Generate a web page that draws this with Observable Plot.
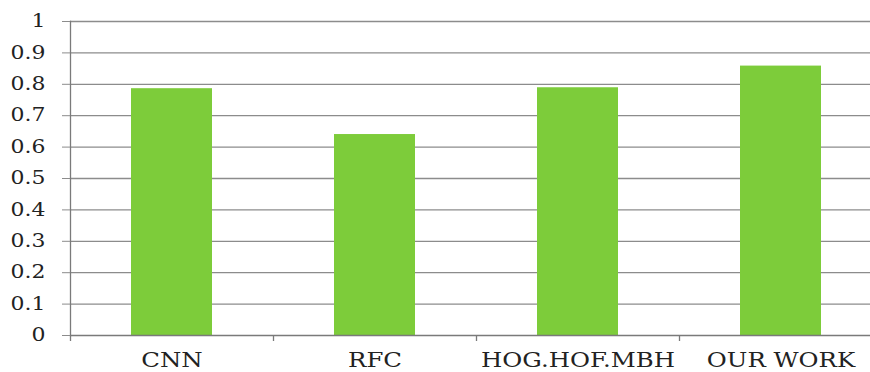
<!DOCTYPE html>
<html>
<head>
<meta charset="utf-8">
<script src="https://cdn.jsdelivr.net/npm/d3@7"></script>
<script src="https://cdn.jsdelivr.net/npm/@observablehq/plot@0.6"></script>
<style>
  html, body { margin: 0; padding: 0; background: #fff; }
  #chart svg { display: block; }
</style>
</head>
<body>
<div id="chart"></div>
<script>
const categories = ["CNN", "RFC", "HOG.HOF.MBH", "OUR WORK"];
const values = [0.786, 0.640, 0.789, 0.858];
const yTicks = [0, 0.1, 0.2, 0.3, 0.4, 0.5, 0.6, 0.7, 0.8, 0.9, 1];
const yTickLabels = ["0", "0.1", "0.2", "0.3", "0.4", "0.5", "0.6", "0.7", "0.8", "0.9", "1"];

const data = categories.map((c, i) => ({category: c, value: values[i]}));

const W = 870, H = 372;
const xRange = [70, 882];
const step = (xRange[1] - xRange[0]) / categories.length;
const gridColor = "#8c8c8c";
const axisColor = "#7a7a7a";
const font = "'DejaVu Serif', 'Liberation Serif', serif";

const chart = Plot.plot({
  width: W,
  height: H,
  marginTop: 21,
  marginBottom: 37,
  marginLeft: 70,
  marginRight: 0,
  style: {fontFamily: font, color: "#222", background: "#fff"},
  x: {domain: categories, range: xRange, paddingInner: 0.6, paddingOuter: 0.3, align: 0.5, label: null},
  y: {domain: [0, 1], label: null},
  marks: [
    Plot.ruleY(yTicks.slice(1), {stroke: gridColor, strokeWidth: 1.3, strokeOpacity: 1}),
    Plot.barY(data, {x: "category", y: "value", fill: "#7dcc3a"}),
    Plot.ruleY([0], {stroke: axisColor, strokeWidth: 1.3}),
    Plot.frame({anchor: "left", stroke: axisColor, strokeWidth: 1.3}),
    Plot.ruleX(categories, {x: d => d, dx: -step / 2, y1: 0, y2: 0, insetBottom: -6, stroke: axisColor, strokeWidth: 1.3}),
    Plot.axisY({
      ticks: yTicks,
      tickFormat: (d) => yTickLabels[yTicks.indexOf(d)],
      tickSize: 8,
      tickPadding: 17,
      stroke: gridColor,
      strokeOpacity: 1,
      fontSize: 18,
      label: null
    }),
    Plot.axisX({
      tickSize: 0,
      tickPadding: 17,
      fontSize: 20,
      label: null
    })
  ]
});

document.getElementById("chart").appendChild(chart);

// Widen glyphs horizontally to match the reference's stretched serif text
chart.querySelectorAll("text").forEach(t => {
  const len = t.getComputedTextLength();
  if (len > 0) {
    t.setAttribute("textLength", (len * 1.22).toFixed(1));
    t.setAttribute("lengthAdjust", "spacingAndGlyphs");
  }
});
</script>
</body>
</html>
